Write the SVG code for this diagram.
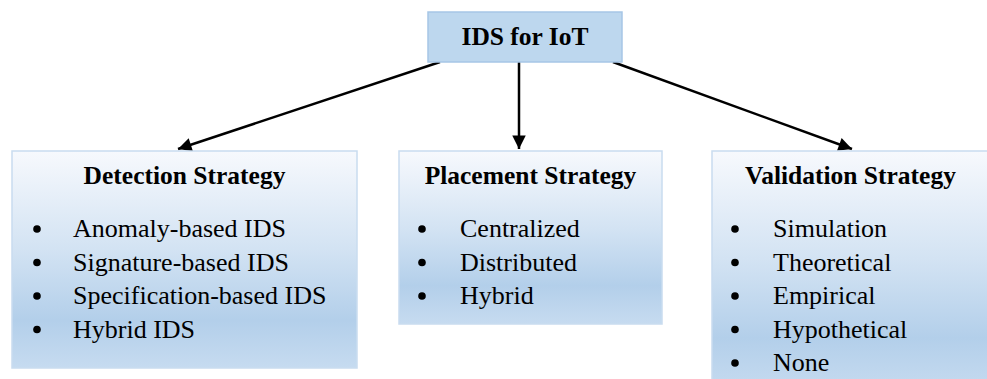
<svg xmlns="http://www.w3.org/2000/svg" width="987" height="379" viewBox="0 0 987 379">
<defs>
<linearGradient id="g" x1="0" y1="0" x2="0" y2="1">
<stop offset="0" stop-color="#f7f9fd"/>
<stop offset="0.45" stop-color="#d3e3f3"/>
<stop offset="0.78" stop-color="#b3cfea"/>
<stop offset="1" stop-color="#c6dbf0"/>
</linearGradient>
<marker id="ah" viewBox="0 0 10 10" refX="10" refY="5" markerWidth="6" markerHeight="5.4" orient="auto" markerUnits="strokeWidth">
<path d="M0,0 L10,5 L0,10 z" fill="#000"/>
</marker>
<style>
.box{fill:url(#g);stroke:#c9dcef;stroke-width:1.5}
.top{fill:#bdd7ee;stroke:#a7c6e6;stroke-width:1.5}
.t{font-family:"Liberation Serif","Times New Roman",serif;font-size:26px;fill:#000}
.b{font-weight:bold;font-size:25.5px}
.c{text-anchor:middle}
.con{stroke:#000;stroke-width:2.5;fill:none;marker-end:url(#ah)}
</style>
</defs>
<rect width="987" height="379" fill="#fff"/>
<g id="connectors">
<line class="con" x1="440" y1="62" x2="178" y2="149"/>
<line class="con" x1="519" y1="62" x2="519" y2="149"/>
<line class="con" x1="613" y1="62" x2="852" y2="149"/>
</g>
<g id="root">
<rect class="top" x="428" y="12" width="194" height="50"/>
<text class="t b c" x="525" y="45">IDS for IoT</text>
</g>
<g id="detection">
<rect class="box" x="12" y="151" width="345" height="217"/>
<text class="t b c" x="184.5" y="184">Detection Strategy</text>
<g fill="#000">
<circle cx="37" cy="229" r="3.8"/><circle cx="37" cy="262.5" r="3.8"/><circle cx="37" cy="296" r="3.8"/><circle cx="37" cy="329.5" r="3.8"/>
</g>
<text class="t" x="73" y="237">Anomaly-based IDS</text>
<text class="t" x="73" y="270.5">Signature-based IDS</text>
<text class="t" x="73" y="304">Specification-based IDS</text>
<text class="t" x="73" y="337.5">Hybrid IDS</text>
</g>
<g id="placement">
<rect class="box" x="399" y="151" width="263" height="173"/>
<text class="t b c" x="530.5" y="184">Placement Strategy</text>
<g fill="#000">
<circle cx="422" cy="229" r="3.8"/><circle cx="422" cy="262.5" r="3.8"/><circle cx="422" cy="296" r="3.8"/>
</g>
<text class="t" x="460" y="237">Centralized</text>
<text class="t" x="460" y="270.5">Distributed</text>
<text class="t" x="460" y="304">Hybrid</text>
</g>
<g id="validation">
<rect class="box" x="712" y="151" width="290" height="240"/>
<text class="t b c" x="850.5" y="184">Validation Strategy</text>
<g fill="#000">
<circle cx="735" cy="229" r="3.8"/><circle cx="735" cy="262.5" r="3.8"/><circle cx="735" cy="296" r="3.8"/><circle cx="735" cy="329.5" r="3.8"/><circle cx="735" cy="363" r="3.8"/>
</g>
<text class="t" x="773" y="237">Simulation</text>
<text class="t" x="773" y="270.5">Theoretical</text>
<text class="t" x="773" y="304">Empirical</text>
<text class="t" x="773" y="337.5">Hypothetical</text>
<text class="t" x="773" y="371">None</text>
</g>
</svg>
